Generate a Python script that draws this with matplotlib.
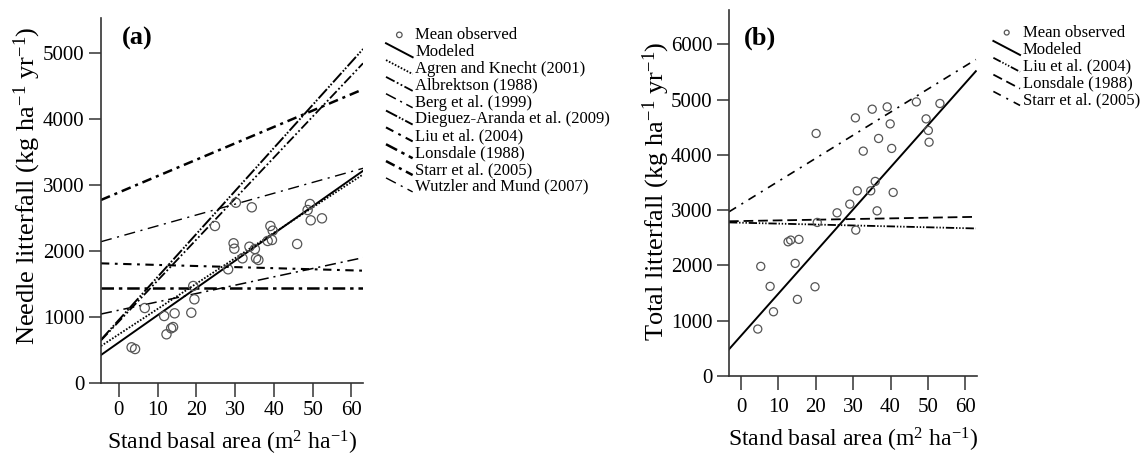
import matplotlib
matplotlib.use("Agg")
import matplotlib.pyplot as plt
from matplotlib.legend_handler import HandlerLine2D
from matplotlib.lines import Line2D

plt.rcParams['font.family'] = ['Liberation Serif', 'DejaVu Serif']
plt.rcParams['mathtext.fontset'] = 'custom'
plt.rcParams['mathtext.rm'] = 'Liberation Serif'
plt.rcParams['mathtext.it'] = 'Liberation Serif:italic'
plt.rcParams['lines.scale_dashes'] = False

# ---- panel (a): needle litterfall ----
obs_a_x = [3.3, 4.2, 6.7, 11.7, 12.3, 13.5, 14.0, 14.4, 18.7, 19.2, 19.5, 24.8, 28.2,
           29.6, 29.8, 30.2, 31.9, 33.7, 34.3, 35.1, 35.4, 36.0, 39.1, 39.7, 38.4,
           39.5, 46.0, 49.3, 48.7, 49.5, 52.4]
obs_a_y = [541, 515, 1136, 1015, 738, 829, 848, 1056, 1065, 1470, 1268, 2379, 1723,
           2117, 2035, 2732, 1889, 2065, 2662, 2030, 1889, 1864, 2379, 2308, 2152,
           2167, 2106, 2712, 2621, 2465, 2495]

x_ends_a = [-4.6, 63.0]
names_a = ["Modeled", "Agren and Knecht (2001)", "Albrektson (1988)", "Berg et al. (1999)",
           "Dieguez-Aranda et al. (2009)", "Liu et al. (2004)", "Lonsdale (1988)",
           "Starr et al. (2005)", "Wutzler and Mund (2007)"]
start_a = [424, 560, 645, 1045, 655, 1813, 1444, 2773, 2141]
end_a = [3215, 3160, 4844, 1899, 5060, 1702, 1444, 4450, 3253]

# ---- panel (b): total litterfall ----
obs_b_x = [20.1, 30.6, 35.1, 39.1, 39.9, 46.9, 53.2, 49.5, 50.1, 50.3, 36.8, 32.7,
           40.3, 35.9, 31.1, 34.7, 40.7, 36.4, 29.1, 25.7, 20.4, 30.7, 12.6, 13.3,
           15.5, 5.3, 14.5, 7.8, 19.8, 15.1, 8.7, 4.5]
obs_b_y = [4389, 4671, 4828, 4870, 4562, 4960, 4931, 4653, 4443, 4231, 4298, 4069,
           4118, 3521, 3351, 3351, 3322, 2989, 3110, 2953, 2779, 2640, 2429, 2459,
           2472, 1984, 2038, 1622, 1615, 1387, 1163, 850]

x_ends_b = [-3.2, 62.8]
names_b = ["Modeled", "Liu et al. (2004)", "Lonsdale (1988)", "Starr et al. (2005)"]
start_b = [483, 2779, 2800, 2971]
end_b = [5515, 2670, 2880, 5727]

styles_a = [
    dict(ls='-', lw=1.4),
    dict(ls=(0, (1.2, 1.2)), lw=1.3),
    dict(ls=(0, (7, 1.8, 1.3, 1.8, 1.3, 1.8)), lw=1.3),
    dict(ls=(0, (8, 3.5, 1.5, 3.5)), lw=1.1),
    dict(ls=(0, (9, 1.5, 1.2, 1.2, 1.2, 1.5)), lw=1.4),
    dict(ls=(0, (6, 4, 2, 4)), lw=1.5),
    dict(ls=(0, (9, 3.5, 2.5, 3.5)), lw=1.8),
    dict(ls=(0, (7, 3.5, 2.2, 3.5)), lw=1.8),
    dict(ls=(0, (8, 4, 1.5, 4)), lw=1.0),
]
styles_b = [
    dict(ls='-', lw=1.4),
    dict(ls=(0, (6, 1.3, 1, 1.3, 1, 1.3, 1, 1.3)), lw=1.3),
    dict(ls=(0, (7, 3.5)), lw=1.3),
    dict(ls=(0, (6, 4.5, 1.5, 4.5)), lw=1.2),
]


class HandlerDiag(HandlerLine2D):
    def create_artists(self, legend, orig_handle, xdescent, ydescent,
                       width, height, fontsize, trans):
        line = Line2D([-xdescent, -xdescent + width],
                      [-ydescent + height * 1.1, -ydescent - height * 0.1])
        self.update_prop(line, orig_handle, legend)
        line.set_transform(trans)
        return [line]


def draw_panel(ax, ox, oy, xe, names, starts, ends, styles, ymax, xlim, ylabel,
               tag, tag_xy, ms, xpad, ylab_xy):
    handles = []
    h = ax.scatter(ox, oy, s=ms, facecolors='none', edgecolors='#555555',
                   linewidths=0.9, zorder=3, label='Mean observed')
    handles.append(h)
    for name, s0, s1, st in zip(names, starts, ends, styles):
        ln, = ax.plot(xe, [s0, s1], color='black', label=name, **st)
        handles.append(ln)
    ax.set_xlim(*xlim)
    ax.set_ylim(0, ymax)
    ax.set_xticks(range(0, 61, 10))
    for sp in ['top', 'right']:
        ax.spines[sp].set_visible(False)
    for sp in ['left', 'bottom']:
        ax.spines[sp].set_linewidth(1.2)
        ax.spines[sp].set_color('#333333')
    ax.tick_params(direction='out', length=9, width=1.1, labelsize=15, pad=3,
                   color='#333333')
    ax.tick_params(axis='x', length=10, pad=xpad)
    ax.set_xlabel('Stand basal area (m$^{2}$ ha$^{-1}$)', fontsize=17, labelpad=6)
    ax.set_ylabel(ylabel, fontsize=19)
    ax.yaxis.set_label_coords(*ylab_xy)
    ax.text(tag_xy[0], tag_xy[1], tag, transform=ax.transAxes, fontsize=19,
            fontweight='bold', va='top')
    return handles


fig = plt.figure(figsize=(11.46, 4.57), dpi=100)
ax_a = fig.add_axes([0.0881, 0.1619, 0.2287, 0.7987])
ax_b = fig.add_axes([0.6361, 0.1772, 0.2164, 0.8006])

ha = draw_panel(ax_a, obs_a_x, obs_a_y, x_ends_a, names_a, start_a, end_a, styles_a,
                5530, (-4.6, 63.0), 'Needle litterfall (kg ha$^{-1}$ yr$^{-1}$)', '(a)',
                (0.08, 0.975), 44, 3, (-0.222, 0.54))
hb = draw_panel(ax_b, obs_b_x, obs_b_y, x_ends_b, names_b, start_b, end_b, styles_b,
                6620, (-3.2, 63.1), 'Total litterfall (kg ha$^{-1}$ yr$^{-1}$)', '(b)',
                (0.06, 0.955), 34, 6, (-0.23, 0.505))

hmap = {Line2D: HandlerDiag()}
fig.legend(handles=ha, labels=[h.get_label() for h in ha], handler_map=hmap,
           loc='upper left', bbox_to_anchor=(0.331, 0.955), frameon=False,
           fontsize=12, handlelength=1.6, handletextpad=0.15,
           labelspacing=0.05, borderaxespad=0, markerscale=0.6)
fig.legend(handles=hb, labels=[h.get_label() for h in hb], handler_map=hmap,
           loc='upper left', bbox_to_anchor=(0.861, 0.96), frameon=False,
           fontsize=12, handlelength=1.6, handletextpad=0.15,
           labelspacing=0.05, borderaxespad=0, markerscale=0.6)

fig.savefig('out.png', dpi=100)
